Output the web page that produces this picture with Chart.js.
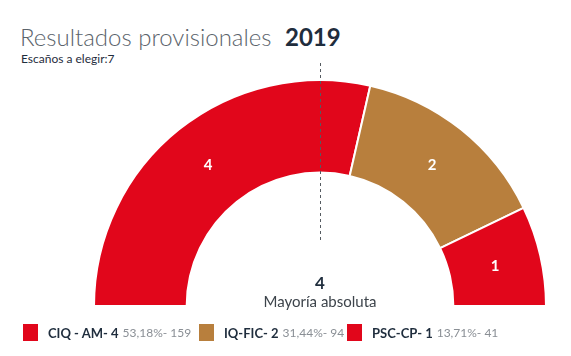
<!DOCTYPE html>
<html>
<head>
<meta charset="utf-8">
<script src="https://cdn.jsdelivr.net/npm/chart.js@4.4.1/dist/chart.umd.min.js"></script>
<style>
  html, body { margin: 0; padding: 0; background: #ffffff; }
  body { width: 571px; height: 356px; position: relative; overflow: hidden; font-family: Lato, "Open Sans", sans-serif; }
  #chart { position: absolute; left: 0; top: 0; }
  #title { position: absolute; left: 20px; top: 23px; font-size: 24px; font-weight: 300; color: #5b636b; white-space: nowrap; line-height: 28px; }
  #title b { font-weight: 700; color: #1f2d3d; margin-left: 7px; }
  #sub { position: absolute; left: 21px; top: 51px; font-size: 12px; color: #1f2d3d; white-space: nowrap; }
  #legend { position: absolute; left: 0; top: 324px; width: 571px; height: 20px; white-space: nowrap; font-size: 0; }
  .item { position: absolute; top: 0; white-space: nowrap; }
  .item:nth-child(1) { left: 23px; }
  .item:nth-child(2) { left: 199px; }
  .item:nth-child(3) { left: 347px; }
  .sw { display: inline-block; width: 15px; height: 17px; vertical-align: middle; margin-right: 10px; }
  .nm { font-size: 13px; font-weight: 700; color: #1f2d3d; vertical-align: middle; }
  .pc { font-size: 12px; color: #8a8f95; vertical-align: middle; margin-left: 4px; }
</style>
</head>
<body>
<div id="title">Resultados provisionales <b id="year"></b></div>
<div id="sub"></div>
<canvas id="chart" width="571" height="356"></canvas>
<div id="legend"></div>
<script>
const year = "2019";
const seatsTotal = 7;
const majority = 4;
const parties = ["CIQ - AM", "IQ-FIC", "PSC-CP"];
const seats = [4, 2, 1];
const percents = ["53,18%", "31,44%", "13,71%"];
const votes = [159, 94, 41];
const colors = ["#e1061b", "#b87f3d", "#e1061b"];

document.getElementById('year').textContent = year;
document.getElementById('sub').textContent = "Escaños a elegir:" + seatsTotal;

const legend = document.getElementById('legend');
parties.forEach((p, i) => {
  const it = document.createElement('span');
  it.className = 'item';
  it.innerHTML = '<span class="sw" style="background:' + colors[i] + '"></span>' +
    '<span class="nm">' + p + '- ' + seats[i] + '</span>' +
    '<span class="pc">' + percents[i] + '- ' + votes[i] + '</span>';
  legend.appendChild(it);
});

const overlay = {
  id: 'overlay',
  afterDatasetsDraw(chart) {
    const ctx = chart.ctx;
    const meta = chart.getDatasetMeta(0);
    const a0 = meta.data[0];
    const cx = a0.x, cy = a0.y, R = a0.outerRadius;
    ctx.save();
    ctx.fillStyle = '#ffffff';
    ctx.font = 'bold 15px Lato, sans-serif';
    ctx.textAlign = 'center';
    ctx.textBaseline = 'middle';
    meta.data.forEach((arc, i) => {
      const p = arc.getCenterPoint();
      ctx.fillText(String(seats[i]), p.x, p.y);
    });
    ctx.strokeStyle = '#555b61';
    ctx.lineWidth = 1;
    ctx.setLineDash([3, 3]);
    ctx.beginPath();
    ctx.moveTo(Math.round(cx) + 0.5, cy - R - 17);
    ctx.lineTo(Math.round(cx) + 0.5, cy - 66);
    ctx.stroke();
    ctx.setLineDash([]);
    ctx.fillStyle = '#1f2d3d';
    ctx.font = 'bold 17px Lato, sans-serif';
    ctx.fillText(String(majority), cx, cy - 22);
    ctx.fillStyle = '#3d444b';
    ctx.font = '15px Lato, sans-serif';
    ctx.fillText('Mayoría absoluta', cx, cy - 4);
    ctx.restore();
  }
};

new Chart(document.getElementById('chart'), {
  type: 'doughnut',
  data: {
    labels: parties,
    datasets: [{
      data: seats,
      backgroundColor: colors,
      borderColor: '#ffffff',
      borderWidth: 2,
      hoverOffset: 0
    }]
  },
  options: {
    responsive: false,
    animation: false,
    rotation: -90,
    circumference: 180,
    cutout: '59%',
    layout: { padding: { left: 92, right: 23, top: 79, bottom: 49 } },
    plugins: { legend: { display: false }, tooltip: { enabled: false }, title: { display: false } }
  },
  plugins: [overlay]
});
</script>
</body>
</html>
